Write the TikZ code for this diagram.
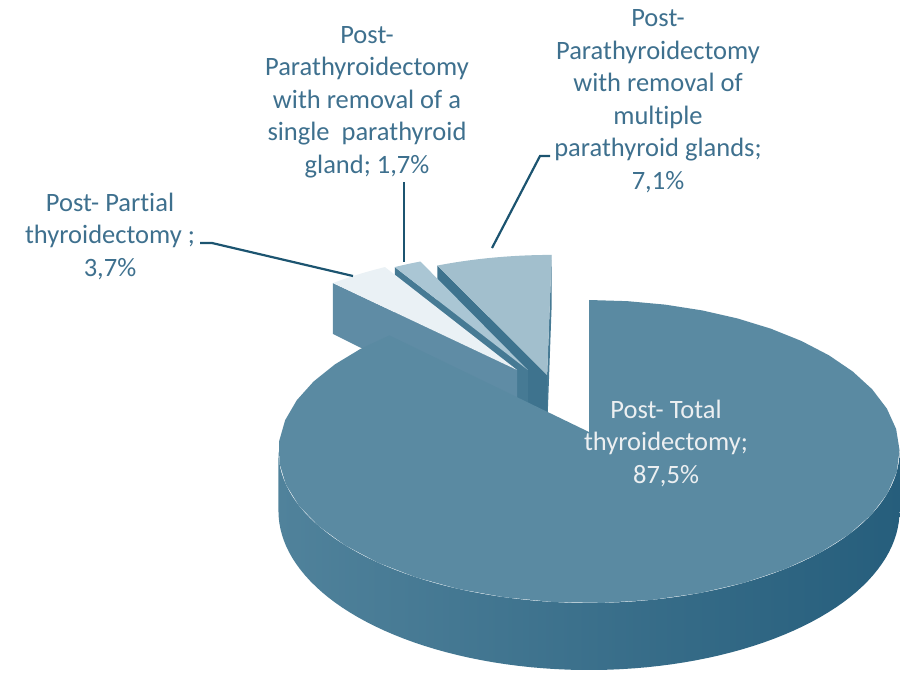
\documentclass[tikz,border=0pt]{standalone}
\usepackage{fontspec}
\setmainfont{Carlito}[Ligatures=NoCommon]
\definecolor{labelc}{RGB}{62,112,142}
\definecolor{leadc}{RGB}{28,84,112}
\definecolor{maintop}{RGB}{90,138,162}
\definecolor{sidelight}{RGB}{80,130,155}
\definecolor{sidemid}{RGB}{50,104,134}
\definecolor{sidedark}{RGB}{38,94,124}
\definecolor{topA}{RGB}{162,191,205}
\definecolor{faceA}{RGB}{62,115,142}
\definecolor{sliverA}{RGB}{70,122,148}
\definecolor{topB}{RGB}{170,198,212}
\definecolor{faceB}{RGB}{70,122,148}
\definecolor{topC}{RGB}{234,241,245}
\definecolor{faceC}{RGB}{95,140,165}
\definecolor{inlabel}{RGB}{236,239,241}
\def\offx{0}\def\offy{0}
\pgfmathdeclarefunction{px}{3}{\pgfmathparse{589+308*(#1*cos(#2)+\offx)/(1+0.1287*(#1*sin(#2)+\offy))}}
\pgfmathdeclarefunction{py}{3}{\pgfmathparse{432+(-149*(#1*sin(#2)+\offy)+58.4*#3)/(1+0.1287*(#1*sin(#2)+\offy))}}
\newcommand\radface[2]{% angle, colour
  \fill[#2] ({px(0,#1,0)},{py(0,#1,0)}) -- ({px(1,#1,0)},{py(1,#1,0)})
    -- ({px(1,#1,1)},{py(1,#1,1)}) -- ({px(0,#1,1)},{py(0,#1,1)}) -- cycle;}
\newcommand\topface[3]{% from, to, colour
  \fill[#3] ({px(0,#1,0)},{py(0,#1,0)}) -- plot[domain=#1:#2,samples=40,variable=\t]
    ({px(1,\t,0)},{py(1,\t,0)}) -- cycle;}
\begin{document}
\begin{tikzpicture}[x=1pt,y=-1pt,
  lbl/.style={align=center, text=labelc, font=\fontsize{26.5}{32.5}\selectfont, inner sep=0pt},
  leader/.style={draw=leadc, line width=2.2pt}]
\useasboundingbox (0,0) rectangle (902,672);
% slice 7.1%
\def\offx{-0.143}\def\offy{0.403}
\radface{90}{sliverA}
\radface{115.6}{faceA}
\topface{90}{115.6}{topA}
% slice 1.7%
\def\offx{-0.21}\def\offy{0.44}
\radface{121.7}{faceB}
\topface{115.6}{121.7}{topB}
% slice 3.7%
\def\offx{-0.247}\def\offy{0.44}
\radface{135}{faceC}
\topface{121.7}{135}{topC}
% main slice 87.5%
\def\offx{0}\def\offy{0}
\shade[left color=sidelight, middle color=sidemid, right color=sidedark]
  plot[domain=187.4:352.6,samples=80,variable=\t] ({px(1,\t,0)},{py(1,\t,0)})
  -- plot[domain=352.6:187.4,samples=80,variable=\t] ({px(1,\t,1)},{py(1,\t,1)}) -- cycle;
\topface{135}{450}{maintop}
% labels
\node[lbl] (l37) at (110,236) {Post- Partial\\thyroidectomy ;\\3,7\%};
\node[lbl] (l17) at (367,102) {Post-\\Parathyroidectomy\\with removal of a\\single\ \ parathyroid\\gland; 1,7\%};
\node[lbl] (l71) at (658,101) {Post-\\Parathyroidectomy\\with removal of\\multiple\\parathyroid glands;\\7,1\%};
\node[lbl, text=inlabel] (l875) at (666,443) {Post- Total\\thyroidectomy;\\87,5\%};
% leaders
\coordinate (a37) at (200,243);
\coordinate (b37) at (212,243);
\coordinate (s37) at (353,276);
\coordinate (a17) at (404,182);
\coordinate (s17) at (404,262);
\coordinate (a71) at (550,156);
\coordinate (b71) at (540,156);
\coordinate (s71) at (492,248);
\draw[leader] (a37) -- (b37) -- (s37);
\draw[leader] (a17) -- (s17);
\draw[leader] (a71) -- (b71) -- (s71);
\end{tikzpicture}
\end{document}
